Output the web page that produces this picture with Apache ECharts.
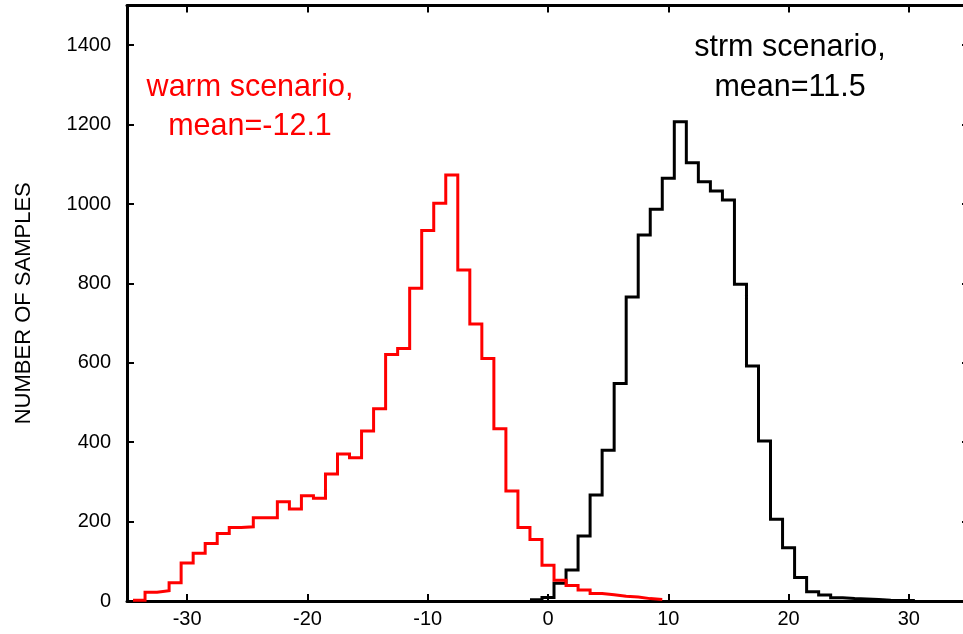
<!DOCTYPE html>
<html>
<head>
<meta charset="utf-8">
<script src="https://cdn.jsdelivr.net/npm/echarts@6/dist/echarts.min.js"></script>
<style>
  html, body { margin: 0; padding: 0; background: #fff; }
  #chart { width: 963px; height: 634px; }
</style>
</head>
<body>
<div id="chart"></div>
<script>
// Histogram bins (centre of each 1-unit bin) and sample counts per bin
const warmBinCenters = [-34, -33, -32, -31, -30, -29, -28, -27, -26, -25, -24, -23, -22, -21, -20,
  -19, -18, -17, -16, -15, -14, -13, -12, -11, -10, -9, -8, -7, -6, -5, -4, -3, -2, -1,
  0, 1, 2, 3, 4, 5, 6, 7, 8, 9];
const warmCounts = [2, 22, 26, 46, 96, 120, 145, 170, 185, 187, 210, 210, 250, 232, 265,
  259, 320, 370, 361, 428, 484, 621, 636, 788, 933, 1002, 1073, 834, 698, 611, 434, 277, 185, 155,
  90, 52, 39, 28, 19, 16, 12, 10, 6, 4];

const strmBinCenters = [-1, 0, 1, 2, 3, 4, 5, 6, 7, 8, 9, 10, 11, 12, 13, 14, 15, 16, 17, 18, 19,
  20, 21, 22, 23, 24, 25, 26, 27, 28, 29, 30];
const strmCounts = [3, 9, 45, 78, 164, 267, 380, 548, 766, 922, 987, 1065, 1207, 1104, 1056, 1033,
  1010, 798, 592, 403, 206, 134, 59, 23, 15, 8, 6, 5, 4, 2, 1, 1];

const warmLabel = ['warm scenario,', 'mean=-12.1'];
const strmLabel = ['strm scenario,', 'mean=11.5'];
const yAxisTitle = 'NUMBER OF SAMPLES';

const BIN_WIDTH = 1;
const FONT = '"Liberation Sans", Arial, Helvetica, sans-serif';

// Turn bin centres + counts into the stepped outline of a histogram
function histOutline(centers, counts) {
  const pts = [];
  centers.forEach((c, i) => {
    pts.push([c - BIN_WIDTH / 2, counts[i]]);
    pts.push([c + BIN_WIDTH / 2, counts[i]]);
  });
  return pts;
}

const axisLineStyle = { color: '#000', width: 3 };
const tickStyle = { show: true, inside: true, length: 7, lineStyle: { color: '#000', width: 2 } };
const plainNumber = v => String(v);

function xAxisDef(position, showLabels) {
  return {
    type: 'value', position: position, min: -35, max: 35, splitNumber: 7,
    axisLine: { show: true, onZero: false, lineStyle: axisLineStyle },
    axisTick: tickStyle,
    splitLine: { show: false },
    axisLabel: {
      show: showLabels, color: '#000', fontSize: 20, fontFamily: FONT, margin: 8,
      showMinLabel: false, showMaxLabel: false, formatter: plainNumber
    }
  };
}

function yAxisDef(position, showLabels) {
  const def = {
    type: 'value', position: position, min: 0, max: 1500, interval: 200,
    axisLine: { show: true, onZero: false, lineStyle: axisLineStyle },
    axisTick: tickStyle,
    splitLine: { show: false },
    axisLabel: {
      show: showLabels, color: '#000', fontSize: 20, fontFamily: FONT, margin: 16,
      showMaxLabel: false, formatter: plainNumber
    }
  };
  if (showLabels) {
    def.name = yAxisTitle;
    def.nameLocation = 'middle';
    def.nameGap = 92;
    def.nameTextStyle = { color: '#000', fontSize: 22, fontFamily: FONT };
  }
  return def;
}

function labelBlock(lines, x, yFirst, color) {
  return lines.map((t, i) => ({
    type: 'text', x: x, y: yFirst + i * 39.5, silent: true,
    style: { text: t, fill: color, font: '30.5px ' + FONT, align: 'center', verticalAlign: 'middle' }
  }));
}

const chart = echarts.init(document.getElementById('chart'), null, { renderer: 'canvas' });
chart.setOption({
  animation: false,
  backgroundColor: '#fff',
  grid: {
    left: 127, top: 5.5, width: 842, height: 595.5,
    containLabel: false, outerBoundsMode: 'none'
  },
  xAxis: [xAxisDef('bottom', true), xAxisDef('top', false)],
  yAxis: [yAxisDef('left', true), yAxisDef('right', false)],
  series: [
    {
      name: 'strm', type: 'line', data: histOutline(strmBinCenters, strmCounts),
      showSymbol: false, symbol: 'none',
      lineStyle: { color: '#000', width: 3, join: 'miter' }
    },
    {
      name: 'warm', type: 'line', data: histOutline(warmBinCenters, warmCounts),
      showSymbol: false, symbol: 'none',
      lineStyle: { color: '#ff0000', width: 3, join: 'miter' }
    }
  ],
  graphic: [
    ...labelBlock(warmLabel, 250, 87.5, '#ff0000'),
    ...labelBlock(strmLabel, 790, 48, '#000')
  ]
});
</script>
</body>
</html>
